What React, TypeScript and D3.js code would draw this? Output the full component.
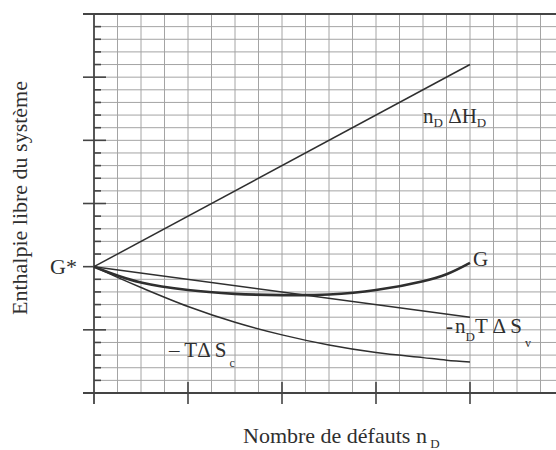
import React from "react";
import * as d3 from "d3";

// Number of defects (arbitrary units, one major division per unit)
const nD = [0, 0.25, 0.5, 1, 1.5, 2, 2.5, 3, 3.5, 3.75, 4];
// Free enthalpy of the system G
const gValues = [0, -0.14, -0.25, -0.37, -0.43, -0.45, -0.44, -0.37, -0.23, -0.12, 0.06];
// Configurational entropy term -TΔSc
const scValues = [0, -0.17, -0.33, -0.63, -0.88, -1.08, -1.24, -1.36, -1.44, -1.48, -1.51];
// Straight terms: nD ΔHD and -nD T ΔSv
const linearX = [0, 4];
const enthalpyValues = [0, 3.2];
const vibrationalValues = [0, -0.8];

const majorXTicks = [1, 2, 3, 4];
const majorYTicks = [-1, 0, 1, 2, 3];

const W = 556;
const H = 450;
const FONT = "'Liberation Serif', 'Times New Roman', serif";
const INK = "#2f2f2f";

export default function App() {
  const x = d3.scaleLinear().domain([0, 4]).range([94, 470]);
  const y = d3.scaleLinear().domain([-2, 4]).range([393, 14]);

  const xMaxGrid = x.invert(W);
  const vGrid = d3.range(0.25, xMaxGrid, 0.25);
  const hGrid = d3.range(-1.8, 3.9, 0.2);
  const minorY = d3.range(-1.8, 3.9, 0.2).filter(
    (v) => Math.abs(v - Math.round(v)) > 0.01
  );

  const smooth = d3
    .line<[number, number]>()
    .x((d) => x(d[0]))
    .y((d) => y(d[1]))
    .curve(d3.curveCatmullRom.alpha(0.5));
  const straight = d3
    .line<[number, number]>()
    .x((d) => x(d[0]))
    .y((d) => y(d[1]));

  const gPath = smooth(nD.map((v, i) => [v, gValues[i]]));
  const scPath = smooth(nD.map((v, i) => [v, scValues[i]]));
  const hPath = straight(linearX.map((v, i) => [v, enthalpyValues[i]]));
  const svPath = straight(linearX.map((v, i) => [v, vibrationalValues[i]]));

  return (
    <svg
      width={W}
      height={H}
      style={{ position: "absolute", left: 0, top: 0, background: "#fff" }}
      fontFamily={FONT}
    >
      {/* grid */}
      <g stroke="#a4a4a4" strokeWidth={1}>
        {vGrid.map((v) => (
          <line key={"v" + v} x1={x(v)} x2={x(v)} y1={y(4)} y2={y(-2)} />
        ))}
        {hGrid.map((v) => (
          <line key={"h" + v} x1={x(0)} x2={W} y1={y(v)} y2={y(v)} />
        ))}
      </g>

      {/* frame and axes */}
      <g stroke="#444" strokeWidth={1.8}>
        <line x1={83} x2={W} y1={y(4)} y2={y(4)} />
        <line x1={83} x2={W} y1={y(-2)} y2={y(-2)} />
        <line x1={x(0)} x2={x(0)} y1={y(4)} y2={y(-2) + 11} />
      </g>
      <g stroke="#444" strokeWidth={1.6}>
        {majorXTicks.map((v) => (
          <line key={"xt" + v} x1={x(v)} x2={x(v)} y1={y(-2) - 11} y2={y(-2) + 11} />
        ))}
        {majorYTicks.map((v) => (
          <line key={"yt" + v} x1={x(0) - 11} x2={x(0) + (v === 0 ? 0 : 12)} y1={y(v)} y2={y(v)} />
        ))}
        {minorY.map((v) => (
          <line key={"ym" + v} x1={x(0)} x2={x(0) + 7} y1={y(v)} y2={y(v)} />
        ))}
      </g>

      {/* curves */}
      <g fill="none" stroke={INK}>
        <path d={hPath ?? ""} strokeWidth={1.5} />
        <path d={svPath ?? ""} strokeWidth={1.5} />
        <path d={scPath ?? ""} strokeWidth={1.5} />
        <path d={gPath ?? ""} strokeWidth={2.6} />
      </g>

      {/* curve labels */}
      <g fill={INK} fontSize={21}>
        <text x={x(0) - 17} y={y(0) + 7} textAnchor="end" fontSize={22}>
          G*
        </text>
        <text x={423} y={123}>
          n<tspan fontSize={13} dy={4}>D</tspan>
          <tspan dy={-4}> ΔH</tspan>
          <tspan fontSize={13} dy={4}>D</tspan>
        </text>
        <text x={x(4) + 3} y={y(gValues[gValues.length - 1]) + 3}>G</text>
        <text x={446} y={333}>
          -<tspan dx={2}>n</tspan>
          <tspan fontSize={13} dy={8}>D</tspan>
          <tspan dy={-8}>T Δ S</tspan>
          <tspan fontSize={12} dy={14}> v</tspan>
        </text>
        <text x={169} y={357}>
          – TΔ S<tspan fontSize={12} dy={10}> c</tspan>
        </text>
      </g>

      {/* axis titles */}
      <text x={243} y={443} fontSize={22} fill={INK}>
        Nombre de défauts n<tspan fontSize={13} dy={5}> D</tspan>
      </text>
      <text
        transform="translate(27, 198) rotate(-90)"
        textAnchor="middle"
        fontSize={22}
        fill={INK}
      >
        Enthalpie libre du système
      </text>
    </svg>
  );
}
